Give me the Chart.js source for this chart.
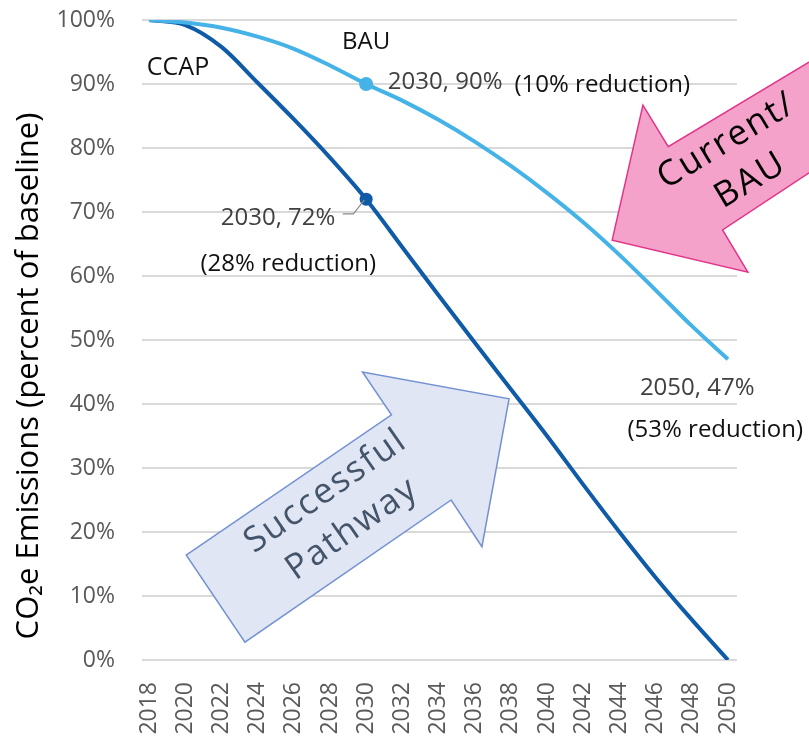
<!DOCTYPE html>
<html>
<head>
<meta charset="utf-8">
<script src="https://cdn.jsdelivr.net/npm/chart.js@4.4.1/dist/chart.umd.min.js"></script>
<style>
  html, body { margin: 0; padding: 0; background: #fff; }
  #wrap { position: relative; width: 809px; height: 741px; }
</style>
</head>
<body>
<div id="wrap"><canvas id="emissions"></canvas></div>
<script>
// values (percent of 2018 baseline)
const years = [2018, 2020, 2022, 2024, 2026, 2028, 2030, 2032, 2034, 2036, 2038, 2040, 2042, 2044, 2046, 2048, 2050];
const bauValues = [100, 99.6, 98.8, 97.4, 95.5, 92.9, 90, 87.4, 84.4, 81, 77.2, 73, 68.4, 63.3, 57.8, 52.2, 47];
const ccapValues = [100, 99.2, 95.8, 90.2, 84.5, 78.5, 72, 64.5, 57, 49.6, 42.3, 35, 27.4, 20, 12.9, 6.3, 0];
const yTicks = [0, 10, 20, 30, 40, 50, 60, 70, 80, 90, 100];
const markerYear = 2030;

const COLORS = {
  bau: '#45b3e7',
  ccap: '#0f5ba7',
  grid: '#d9d9d9',
  tick: '#595959',
  note: '#404040',
  text: '#111111',
};

const FONT = '"Open Sans", "Noto Sans", sans-serif';

// callouts, placed in data units (year, percent)
const notes = [
  { text: 'BAU', at: [2030, 96.6], align: 'center', color: COLORS.text },
  { text: 'CCAP', at: [2019.6, 92.5], align: 'center', color: COLORS.text },
  { text: '2030, 90%', at: [2031.2, 90.3], align: 'left', color: COLORS.note },
  { text: '(10% reduction)', at: [2038.2, 89.8], align: 'left', color: COLORS.text },
  { text: '2030, 72%', at: [2028.3, 69.1], align: 'right', color: COLORS.note },
  { text: '(28% reduction)', at: [2025.7, 61.9], align: 'center', color: COLORS.text },
  { text: '2050, 47%', at: [2048.3, 42.5], align: 'center', color: COLORS.note },
  { text: '(53% reduction)', at: [2049.3, 35.9], align: 'center', color: COLORS.text },
];
const leader = [[2028.7, 69.7], [2029.3, 69.7], [2029.9, 71.9]];

// block arrows, outline in data units
const arrows = [
  {
    outline: [[2055.7, 95.5], [2046.7, 80.2], [2045.3, 86.7], [2043.6, 65.6], [2051.1, 60.6], [2049.7, 67.2], [2055.7, 78.4]],
    fill: '#f5a2ca', stroke: '#e2338a',
    lines: ['Current/', 'BAU'], center: [2050.6, 78.0], angle: -31, color: '#000000',
  },
  {
    outline: [[2020.05, 16.4], [2031.4, 38.3], [2029.8, 45.0], [2037.9, 40.8], [2036.4, 17.7], [2034.7, 25.0], [2023.3, 2.8]],
    fill: '#e1e6f4', stroke: '#7391d2',
    lines: ['Successful', 'Pathway'], center: [2028.5, 23.4], angle: -35, color: '#44546a',
  },
];

const decorations = {
  id: 'decorations',
  beforeDatasetsDraw(chart) {
    const { ctx, scales: { x, y } } = chart;
    arrows.forEach((a) => {
      ctx.save();
      ctx.beginPath();
      a.outline.forEach(([yr, v], i) => {
        const px = x.getPixelForValue(yr);
        const py = y.getPixelForValue(v);
        if (i === 0) ctx.moveTo(px, py); else ctx.lineTo(px, py);
      });
      ctx.closePath();
      ctx.fillStyle = a.fill;
      ctx.fill();
      ctx.lineWidth = 1.5;
      ctx.strokeStyle = a.stroke;
      ctx.stroke();

      ctx.translate(x.getPixelForValue(a.center[0]), y.getPixelForValue(a.center[1]));
      ctx.rotate((a.angle * Math.PI) / 180);
      ctx.font = `35px ${FONT}`;
      if ('letterSpacing' in ctx) ctx.letterSpacing = '2px';
      ctx.fillStyle = a.color;
      ctx.textAlign = 'center';
      ctx.textBaseline = 'middle';
      ctx.fillText(a.lines[0], 0, -23);
      ctx.fillText(a.lines[1], 0, 23);
      ctx.restore();
    });
  },
  afterDatasetsDraw(chart) {
    const { ctx, scales: { x, y }, chartArea } = chart;
    ctx.save();
    ctx.textBaseline = 'middle';
    notes.forEach((n) => {
      ctx.font = `${n.text === 'CCAP' ? 25 : 24}px ${FONT}`;
      ctx.fillStyle = n.color;
      ctx.textAlign = n.align;
      ctx.fillText(n.text, x.getPixelForValue(n.at[0]), y.getPixelForValue(n.at[1]));
    });

    ctx.beginPath();
    leader.forEach(([yr, v], i) => {
      const px = x.getPixelForValue(yr);
      const py = y.getPixelForValue(v);
      if (i === 0) ctx.moveTo(px, py); else ctx.lineTo(px, py);
    });
    ctx.strokeStyle = '#8c8c8c';
    ctx.lineWidth = 1.2;
    ctx.stroke();

    // y-axis title
    ctx.translate(29, (chartArea.top + chartArea.bottom) / 2 + 36);
    ctx.rotate(-Math.PI / 2);
    ctx.font = `31px ${FONT}`;
    ctx.fillStyle = '#000';
    ctx.textAlign = 'center';
    ctx.fillText('CO\u2082e Emissions (percent of baseline)', 0, 0);
    ctx.restore();
  },
};

function series(values) {
  return years.map((yr, i) => ({ x: yr, y: values[i] }));
}

function markerRadius(size) {
  return (ctx) => (ctx.raw && ctx.raw.x === markerYear ? size : 0);
}

new Chart(document.getElementById('emissions'), {
  type: 'line',
  data: {
    datasets: [
      {
        label: 'BAU',
        data: series(bauValues),
        borderColor: COLORS.bau,
        backgroundColor: COLORS.bau,
        borderWidth: 4,
        cubicInterpolationMode: 'monotone',
        pointRadius: markerRadius(7),
        pointHoverRadius: markerRadius(7),
        pointBorderWidth: 0,
      },
      {
        label: 'CCAP',
        data: series(ccapValues),
        borderColor: COLORS.ccap,
        backgroundColor: COLORS.ccap,
        borderWidth: 4,
        cubicInterpolationMode: 'monotone',
        pointRadius: markerRadius(6.5),
        pointHoverRadius: markerRadius(6.5),
        pointBorderWidth: 0,
      },
    ],
  },
  options: {
    responsive: true,
    maintainAspectRatio: false,
    animation: false,
    layout: { padding: { top: 20, right: 72, bottom: 0, left: 0 } },
    plugins: { legend: { display: false }, tooltip: { enabled: false } },
    scales: {
      x: {
        type: 'linear',
        min: 2017.61,
        max: 2050.5,
        afterBuildTicks: (axis) => { axis.ticks = years.map((v) => ({ value: v })); },
        afterFit: (axis) => { axis.height = 81; },
        grid: { display: false },
        border: { display: false },
        ticks: {
          autoSkip: false,
          minRotation: 90,
          maxRotation: 90,
          padding: 14,
          color: COLORS.tick,
          font: { family: FONT, size: 23 },
          callback: (v) => String(v),
        },
      },
      y: {
        min: 0,
        max: 100,
        afterBuildTicks: (axis) => { axis.ticks = yTicks.map((v) => ({ value: v })); },
        afterFit: (axis) => { axis.width = 142; },
        grid: { color: COLORS.grid, lineWidth: 2, drawTicks: true, tickLength: 27, tickColor: 'rgba(0,0,0,0)' },
        border: { display: false },
        ticks: {
          padding: 0,
          color: COLORS.tick,
          font: { family: FONT, size: 23 },
          callback: (v) => v + '%',
        },
      },
    },
  },
  plugins: [decorations],
});
</script>
</body>
</html>
